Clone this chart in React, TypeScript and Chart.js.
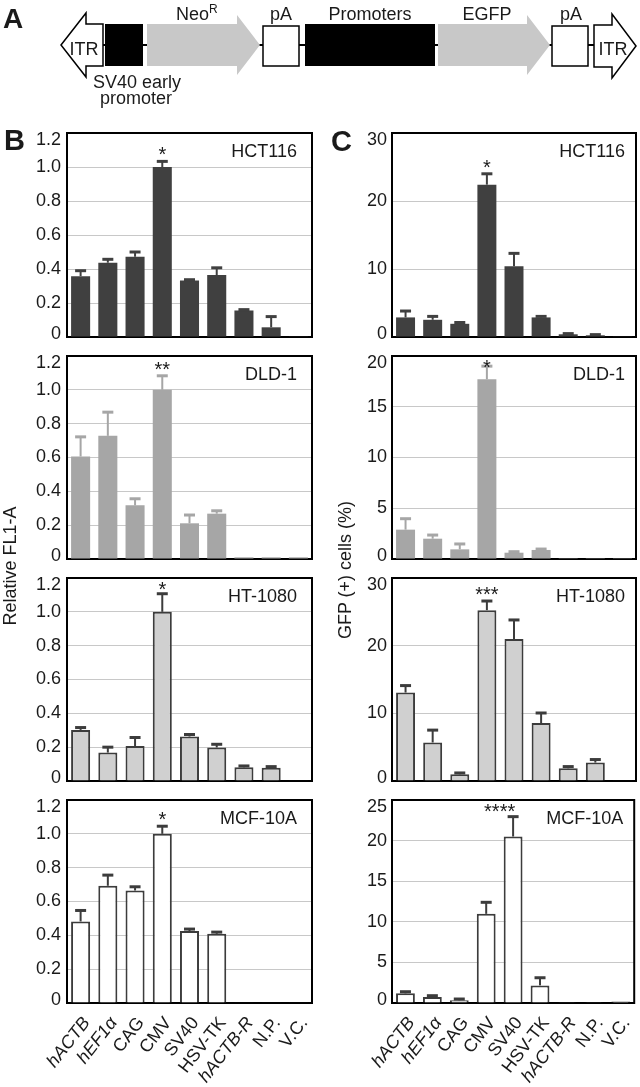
import React, { useEffect, useRef } from "react";
import { Chart, registerables } from "chart.js";
Chart.register(...registerables);

const FONT = '"Liberation Sans", Arial, Helvetica, sans-serif';

// Categories (promoters)
const promoters = ["hACTB", "hEF1\u03b1", "CAG", "CMV", "SV40", "HSV-TK", "hACTB-R", "N.P.", "V.C."];
const italicIdx = [0, 1, 6];

// Panel B: relative FL1-A (mean, upper SD)
const fl1HCT116 = [0.358, 0.437, 0.472, 1.0, 0.333, 0.364, 0.156, 0.057, 0.004];
const fl1HCT116Sd = [0.032, 0.02, 0.028, 0.033, 0.004, 0.043, 0.005, 0.063, 0];
const fl1DLD1 = [0.606, 0.728, 0.317, 1.0, 0.211, 0.268, 0.01, 0.01, 0.01];
const fl1DLD1Sd = [0.116, 0.14, 0.039, 0.083, 0.049, 0.017, 0, 0, 0];
const fl1HT1080 = [0.302, 0.168, 0.207, 1.0, 0.263, 0.198, 0.081, 0.079, 0.002];
const fl1HT1080Sd = [0.014, 0.032, 0.05, 0.107, 0.012, 0.019, 0.008, 0.006, 0];
const fl1MCF10A = [0.482, 0.693, 0.665, 1.0, 0.425, 0.409, 0.002, 0.002, 0.002];
const fl1MCF10ASd = [0.065, 0.063, 0.022, 0.045, 0.012, 0.01, 0, 0, 0];

// Panel C: GFP (+) cells (%) (mean, upper SD)
const gfpHCT116 = [2.88, 2.53, 1.94, 22.4, 10.4, 2.88, 0.4, 0.25, 0.1];
const gfpHCT116Sd = [0.94, 0.5, 0.19, 1.6, 1.9, 0.15, 0.1, 0.1, 0];
const gfpDLD1 = [2.89, 2.0, 0.95, 17.7, 0.62, 0.89, 0.08, 0.08, 0.08];
const gfpDLD1Sd = [1.08, 0.36, 0.53, 1.3, 0.1, 0.09, 0, 0, 0];
const gfpHT1080 = [13.07, 5.69, 0.99, 25.25, 21.0, 8.56, 1.88, 2.72, 0.05];
const gfpHT1080Sd = [1.03, 1.83, 0.2, 1.35, 2.8, 1.49, 0.25, 0.45, 0];
const gfpMCF10A = [1.19, 0.74, 0.33, 10.98, 20.5, 2.17, 0.02, 0.02, 0.2];
const gfpMCF10ASd = [0.2, 0.16, 0.16, 1.42, 2.45, 0.94, 0, 0, 0];

const cellLines = ["HCT116", "DLD-1", "HT-1080", "MCF-10A"];
const starsB = ["*", "**", "*", "*"];
const starsC = ["*", "*", "***", "****"];
const starPosB = [3, 3, 3, 3];
const starPosC = [3, 3, 3, 3.5];
const axisMaxB = [1.2, 1.2, 1.2, 1.2];
const axisStepB = [0.2, 0.2, 0.2, 0.2];
const axisMaxC = [30, 20, 30, 25];
const axisStepC = [10, 5, 10, 5];

const rowStyles = [
  { fill: "#404040", border: "#404040", bw: 0, err: "#404040" },
  { fill: "#a6a6a6", border: "#a6a6a6", bw: 0, err: "#a6a6a6" },
  { fill: "#d0d0d0", border: "#3c3c3c", bw: 2, err: "#3c3c3c" },
  { fill: "#ffffff", border: "#3c3c3c", bw: 2, err: "#3c3c3c" },
];

const PLOT_TOP = [133, 356, 578, 800];
const PLOT_BOTTOM = [337, 559, 781, 1003];
const COL = [
  { left: 0, width: 320, yw: 67, padRight: 8, tickPad: 6 },
  { left: 320, width: 320, yw: 72, padRight: 4, tickPad: 5 },
];

type PanelDef = {
  col: number; row: number; name: string; values: number[]; sd: number[];
  max: number; step: number; stars: string; starAt: number;
};

const panels: PanelDef[] = [
  { col: 0, row: 0, name: cellLines[0], values: fl1HCT116, sd: fl1HCT116Sd, max: axisMaxB[0], step: axisStepB[0], stars: starsB[0], starAt: starPosB[0] },
  { col: 0, row: 1, name: cellLines[1], values: fl1DLD1, sd: fl1DLD1Sd, max: axisMaxB[1], step: axisStepB[1], stars: starsB[1], starAt: starPosB[1] },
  { col: 0, row: 2, name: cellLines[2], values: fl1HT1080, sd: fl1HT1080Sd, max: axisMaxB[2], step: axisStepB[2], stars: starsB[2], starAt: starPosB[2] },
  { col: 0, row: 3, name: cellLines[3], values: fl1MCF10A, sd: fl1MCF10ASd, max: axisMaxB[3], step: axisStepB[3], stars: starsB[3], starAt: starPosB[3] },
  { col: 1, row: 0, name: cellLines[0], values: gfpHCT116, sd: gfpHCT116Sd, max: axisMaxC[0], step: axisStepC[0], stars: starsC[0], starAt: starPosC[0] },
  { col: 1, row: 1, name: cellLines[1], values: gfpDLD1, sd: gfpDLD1Sd, max: axisMaxC[1], step: axisStepC[1], stars: starsC[1], starAt: starPosC[1] },
  { col: 1, row: 2, name: cellLines[2], values: gfpHT1080, sd: gfpHT1080Sd, max: axisMaxC[2], step: axisStepC[2], stars: starsC[2], starAt: starPosC[2] },
  { col: 1, row: 3, name: cellLines[3], values: gfpMCF10A, sd: gfpMCF10ASd, max: axisMaxC[3], step: axisStepC[3], stars: starsC[3], starAt: starPosC[3] },
];

function fmtTick(col: number, n: number) {
  if (col === 0) return Math.abs(n) < 1e-9 ? "0" : n.toFixed(1);
  return String(Math.round(n));
}

function PanelChart({ p }: { p: PanelDef }) {
  const ref = useRef<HTMLCanvasElement>(null);
  const col = COL[p.col];
  const padTop = 12;
  const xH = p.row === 3 ? 1087 - PLOT_BOTTOM[3] : 12;
  const top = PLOT_TOP[p.row] - padTop;
  const height = PLOT_BOTTOM[p.row] - top + xH;
  const st = rowStyles[p.row];

  useEffect(() => {
    if (!ref.current) return;
    const deco = {
      id: "deco" + p.col + p.row,
      beforeDatasetsDraw(chart: any) {
        const { ctx, chartArea: ca } = chart;
        ctx.save();
        ctx.strokeStyle = "#000";
        ctx.lineWidth = 2;
        ctx.strokeRect(ca.left, ca.top, ca.right - ca.left, ca.bottom - ca.top);
        ctx.restore();
      },
      afterDatasetsDraw(chart: any) {
        const { ctx, chartArea: ca, scales } = chart;
        const y = scales.y;
        const x = scales.x;
        const meta = chart.getDatasetMeta(0);
        ctx.save();
        ctx.strokeStyle = st.err;
        meta.data.forEach((bar: any, i: number) => {
          const sd = p.sd[i];
          if (!sd) return;
          const tip = y.getPixelForValue(p.values[i] + sd);
          ctx.lineWidth = 2;
          ctx.beginPath();
          ctx.moveTo(bar.x, bar.y);
          ctx.lineTo(bar.x, tip);
          ctx.stroke();
          ctx.lineWidth = 3;
          ctx.beginPath();
          ctx.moveTo(bar.x - 5.5, tip);
          ctx.lineTo(bar.x + 5.5, tip);
          ctx.stroke();
        });
        // y tick labels (top label sits slightly below the frame, zero slightly above)
        ctx.fillStyle = "#1a1a1a";
        ctx.font = "18px " + FONT;
        ctx.textAlign = "right";
        ctx.textBaseline = "middle";
        const n = y.ticks.length;
        y.ticks.forEach((t: any, i: number) => {
          let py = y.getPixelForValue(t.value);
          if (i === n - 1) py += 7;
          if (i === 0) py -= 3;
          ctx.fillText(fmtTick(p.col, t.value), ca.left - col.tickPad, py);
        });
        // cell line name
        ctx.fillText(p.name, ca.right - (p.col === 0 ? 15 : 11), ca.top + 19);
        // significance stars
        const lo = Math.floor(p.starAt), hi = Math.ceil(p.starAt);
        let tipVal = 0;
        for (let k = lo; k <= hi; k++) tipVal = Math.max(tipVal, p.values[k] + p.sd[k]);
        const tipPx = y.getPixelForValue(tipVal);
        const center = Math.max(tipPx - 11, ca.top + 7);
        ctx.font = "20px " + FONT;
        ctx.textAlign = "center";
        ctx.textBaseline = "alphabetic";
        ctx.fillText(p.stars, x.getPixelForValue(p.starAt), center + 11);
        ctx.restore();
      },
    };

    const chart = new Chart(ref.current, {
      type: "bar",
      data: {
        labels: promoters,
        datasets: [
          {
            data: p.values,
            backgroundColor: st.fill,
            borderColor: st.border,
            borderWidth: st.bw,
            barPercentage: 0.7,
            categoryPercentage: 1.0,
          },
        ],
      },
      options: {
        responsive: false,
        animation: false,
        devicePixelRatio: 1,
        layout: { padding: { top: padTop, right: col.padRight, left: 0, bottom: 0 } },
        plugins: { legend: { display: false }, tooltip: { enabled: false }, title: { display: false } },
        scales: {
          x: {
            type: "category",
            grid: { display: false },
            border: { display: false },
            afterFit: (s: any) => { s.height = xH; },
            ticks: {
              display: p.row === 3,
              autoSkip: false,
              minRotation: 52,
              maxRotation: 52,
              padding: 2,
              labelOffset: 6,
              color: "#1a1a1a",
              font: (c: any) => ({
                family: FONT,
                size: 18,
                style: italicIdx.includes(c.index) ? "italic" : "normal",
              }),
            },
          },
          y: {
            min: 0,
            max: p.max,
            grid: { color: "#c8c8c8", lineWidth: 1, drawTicks: false },
            border: { display: false },
            afterFit: (s: any) => { s.width = col.yw; },
            ticks: {
              display: false,
              stepSize: p.step,
              font: { family: FONT, size: 18 },
            },
          },
        },
      },
      plugins: [deco],
    } as any);
    return () => chart.destroy();
  }, []);

  return (
    <canvas
      ref={ref}
      width={col.width}
      height={height}
      style={{ position: "absolute", left: col.left, top, width: col.width, height }}
    />
  );
}

function Overlay() {
  const t = { fontFamily: FONT, fill: "#1a1a1a" } as any;
  return (
    <svg width={640} height={1087} style={{ position: "absolute", left: 0, top: 0, pointerEvents: "none" }}>
      {/* Panel A construct diagram */}
      <text x={3} y={28} style={{ ...t, fontSize: 28, fontWeight: 700 }}>A</text>
      <line x1={100} y1={45} x2={596} y2={45} stroke="#000" strokeWidth={2} />
      <polygon points="61,45 86,13 86,24 103,24 103,66 86,66 86,77" fill="#fff" stroke="#000" strokeWidth={1.5} />
      <text x={84} y={55} textAnchor="middle" style={{ ...t, fontSize: 18 }}>ITR</text>
      <rect x={105} y={24} width={38} height={42} fill="#000" />
      <polygon points="147,24 237,24 237,15 260,45 237,75 237,66 147,66" fill="#c8c8c8" />
      <text x={176} y={20} style={{ ...t, fontSize: 18 }}>Neo<tspan fontSize={12} dy={-7}>R</tspan></text>
      <rect x={263} y={26} width={36} height={40} fill="#fff" stroke="#000" strokeWidth={1.5} />
      <text x={281} y={20} textAnchor="middle" style={{ ...t, fontSize: 18 }}>pA</text>
      <rect x={305} y={24} width={130} height={42} fill="#000" />
      <text x={370} y={20} textAnchor="middle" style={{ ...t, fontSize: 18 }}>Promoters</text>
      <polygon points="438,24 527,24 527,15 550,45 527,75 527,66 438,66" fill="#c8c8c8" />
      <text x={487} y={20} textAnchor="middle" style={{ ...t, fontSize: 18 }}>EGFP</text>
      <rect x={552} y={26} width={36} height={40} fill="#fff" stroke="#000" strokeWidth={1.5} />
      <text x={571} y={20} textAnchor="middle" style={{ ...t, fontSize: 18 }}>pA</text>
      <polygon points="594,25 612,25 612,14 636,46 612,78 612,67 594,67" fill="#fff" stroke="#000" strokeWidth={1.5} />
      <text x={613} y={55} textAnchor="middle" style={{ ...t, fontSize: 18 }}>ITR</text>
      <text x={137} y={88} textAnchor="middle" style={{ ...t, fontSize: 18 }}>SV40 early</text>
      <text x={136} y={104} textAnchor="middle" style={{ ...t, fontSize: 18 }}>promoter</text>

      {/* Panel letters */}
      <text x={4} y={150} style={{ ...t, fontSize: 29, fontWeight: 700 }}>B</text>
      <text x={331} y={151} style={{ ...t, fontSize: 29, fontWeight: 700 }}>C</text>

      {/* Axis titles */}
      <text transform="translate(16,566) rotate(-90)" textAnchor="middle" style={{ ...t, fontSize: 18 }}>Relative FL1-A</text>
      <text transform="translate(351,570) rotate(-90)" textAnchor="middle" style={{ ...t, fontSize: 18 }}>GFP (+) cells (%)</text>
    </svg>
  );
}

export default function App() {
  return (
    <div style={{ position: "absolute", left: 0, top: 0, width: 640, height: 1087, background: "#fff", overflow: "hidden" }}>
      {panels.map((p) => (
        <PanelChart key={p.col + "-" + p.row} p={p} />
      ))}
      <Overlay />
    </div>
  );
}
